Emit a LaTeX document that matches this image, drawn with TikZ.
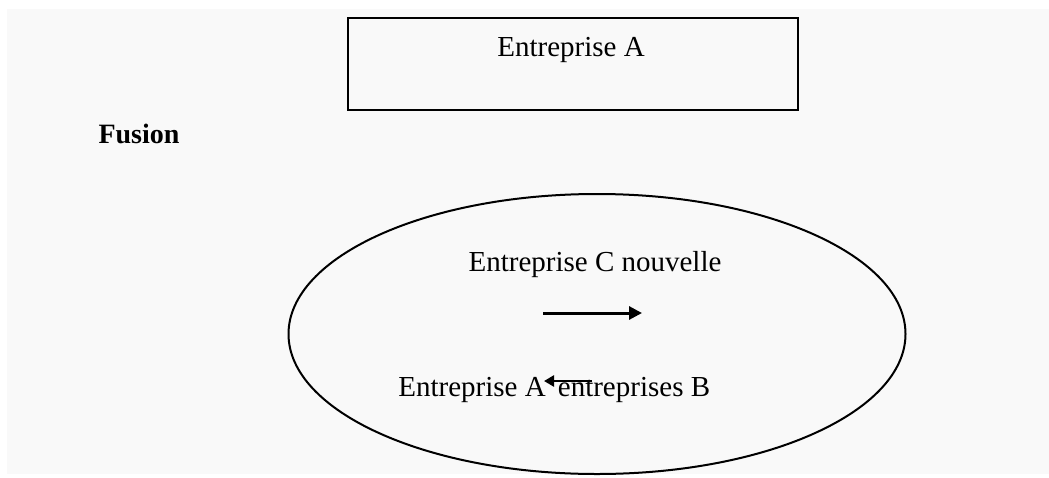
\documentclass[tikz,border=0pt]{standalone}
\usepackage{fontspec}
\setmainfont{Liberation Serif}
\usetikzlibrary{shapes.geometric,arrows.meta}
\definecolor{bgpage}{HTML}{F9F9F9}
\begin{document}
\begin{tikzpicture}[x=1pt,y=-1pt,
  lbl/.style={font=\fontsize{29}{32}\selectfont, inner sep=0pt, anchor=base},
  conn/.style={line width=3pt, -{Triangle[length=13pt,width=13pt]}},
]
\useasboundingbox (0,0) rectangle (1049,477);
\fill[white] (0,0) rectangle (1049,477);
\fill[bgpage] (7,9) rectangle (1049,474);
\node[draw, line width=2.6pt, minimum width=450pt, minimum height=92pt, inner sep=0pt] (boxA) at (573,64) {};
\node[lbl] (tA) at (571,56) {Entreprise A};
\node[lbl, font=\fontsize{28}{30}\selectfont\bfseries] (fus) at (139,143) {Fusion};
\node[draw, ellipse, line width=2pt, minimum width=617pt, minimum height=280pt, inner sep=0pt] (ell) at (597,334) {};
\node[lbl] (tC) at (595,271) {Entreprise C nouvelle};
\coordinate (r1) at (543,313);
\coordinate (r2) at (642,313);
\draw[conn] (r1) -- (r2);
\node[lbl] (tAB) at (472,396) {Entreprise A};
\node[lbl] (tB) at (634,396) {entreprises B};
\coordinate (l1) at (592,381);
\coordinate (l2) at (544,381);
\draw[line width=2.6pt, -{Triangle[length=10pt,width=11pt]}] (l1) -- (l2);
\end{tikzpicture}
\end{document}
